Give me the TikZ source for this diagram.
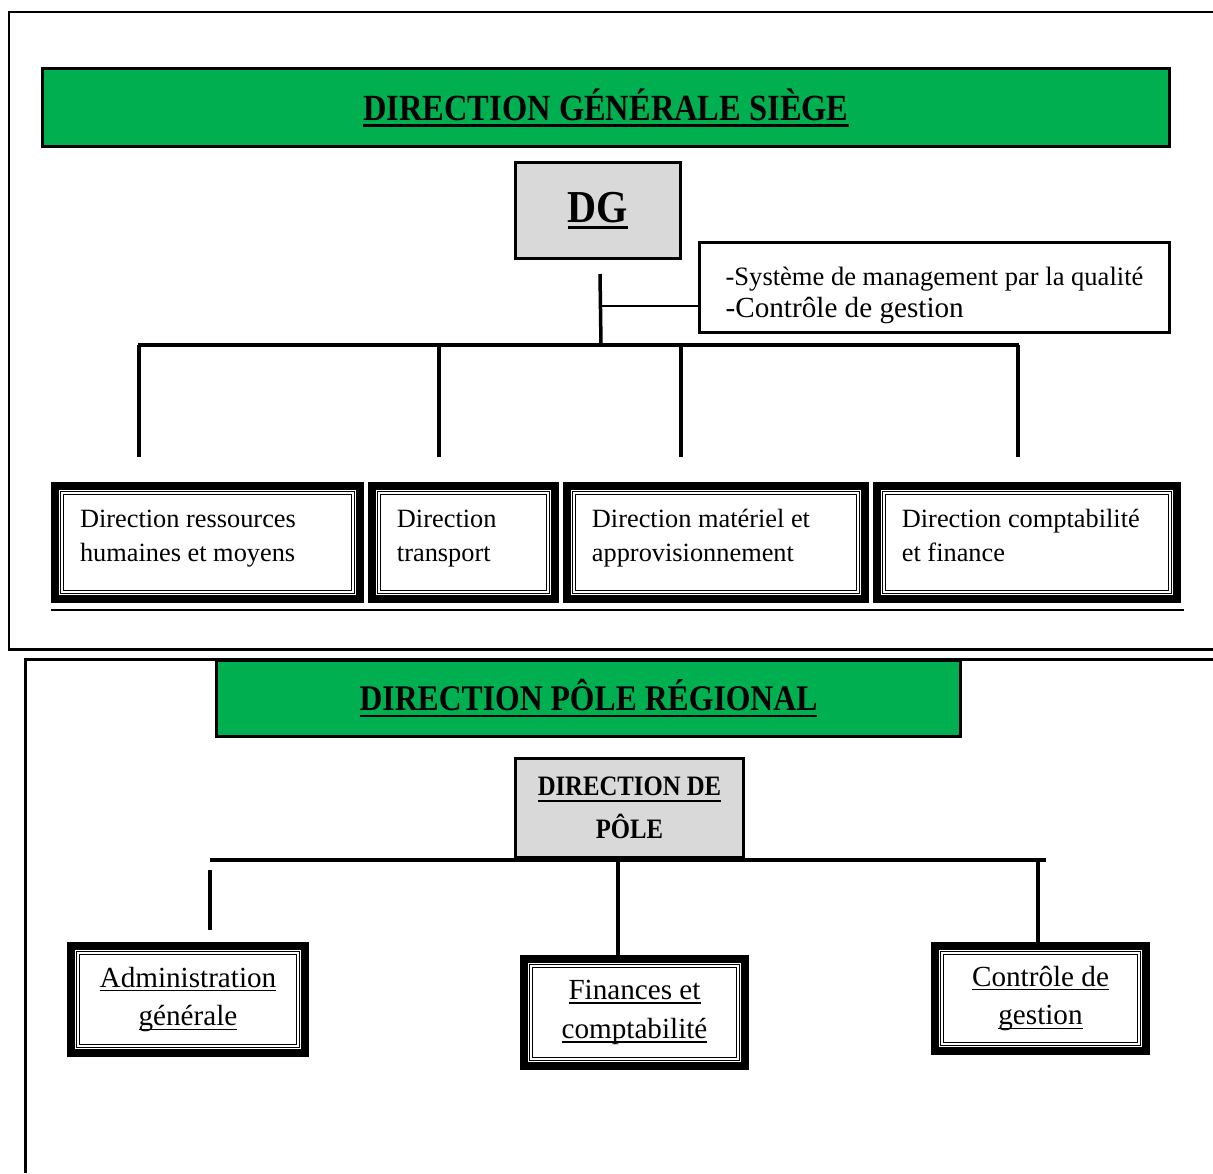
\documentclass[tikz,border=0pt]{standalone}
\usepackage{fontspec}
\setmainfont{Liberation Serif}
\newfontfamily\headfont[FakeStretch=0.88]{Liberation Serif}
\usetikzlibrary{calc,positioning}
\definecolor{OrgGreen}{HTML}{00B050}
\definecolor{OrgGray}{HTML}{D9D9D9}
\newcommand{\orgul}[3]{\leavevmode\setbox0\hbox{#3}\rlap{\vrule height -#2 depth \dimexpr#2+#1\relax width \wd0}\box0}
\newcommand{\headul}[1]{\orgul{1.5pt}{2.2pt}{#1}}
\newcommand{\unitul}[1]{\orgul{0.8pt}{1.6pt}{#1}}
\newcommand{\unitend}{\rule[-11.6pt]{0pt}{12pt}}
\tikzset{
  org banner/.style={
    draw=black,
    fill=OrgGreen,
    line width=0.06cm,
    minimum height=1.56cm,
    inner sep=0pt,
    font=\headfont\bfseries\fontsize{21}{25}\selectfont
  },
  org chief/.style={
    draw=black,
    fill=OrgGray,
    line width=0.06cm,
    inner sep=0pt,
    align=center
  },
  org note/.style={
    draw=black,
    line width=0.06cm,
    align=left,
    inner sep=0pt,
    minimum height=1.8cm,
    minimum width=9.4cm,
    font=\fontsize{16.6}{18.2}\selectfont
  },
  org unit/.style={
    draw=black,
    line width=0.16cm,
    inner xsep=0.5cm,
    inner ysep=0pt,
    align=flush left,
    minimum height=2.26cm,
    font=\fontsize{15}{19.8}\selectfont
  },
  org pole unit/.style={
    draw=black,
    line width=0.16cm,
    inner sep=0pt,
    align=center,
    minimum height=2.14cm,
    font=\fontsize{16.6}{22.1}\selectfont
  },
  org inner/.style={draw=black,line width=0.025cm},
  org bus/.style={draw=black,line width=0.08cm},
  org drop/.style={draw=black,line width=0.07cm},
  org tie/.style={draw=black,line width=0.03cm},
  org frame/.style={draw=black,line width=0.06cm}
}

\begin{document}
\begin{tikzpicture}[x=0.02cm,y=-0.02cm,node distance=0.08cm]
  \useasboundingbox[fill=white] (0,0) rectangle (1213,1173);
  \draw[org frame] (1213,12) -- (9,12) -- (9,649) -- (1213,649);
  \draw[org frame] (1213,659) -- (25,659) -- (25,1173);

  \node[org banner,minimum width=22.54cm] (siege) at (606,107.5) {\headul{DIRECTION GÉNÉRALE SIÈGE}};
  \node[org chief,minimum width=3.30cm,minimum height=1.92cm,font=\headfont\bfseries\fontsize{26}{30}\selectfont] (dg) at (598,210.5) {\headul{DG}};
  \node[org note] (qual) at (934.5,287.5) {\rule{0pt}{19pt}{\fontsize{15.1}{18.2}\selectfont -Système de management par la qualité}\\-Contrôle de gestion};

  \node[org unit,minimum width=6.10cm,text width=5.10cm] (drh) at (207.5,542.5) {\strut Direction ressources\\humaines et moyens\unitend};
  \node[org unit,minimum width=3.66cm,text width=2.66cm,right=of drh] (dtr) {\strut Direction\\transport\unitend};
  \node[org unit,minimum width=5.96cm,text width=4.96cm,right=of dtr] (dma) {\strut Direction matériel et\\approvisionnement\unitend};
  \node[org unit,minimum width=6.00cm,text width=5.00cm,right=of dma] (dcf) {\strut Direction comptabilité\\et finance\unitend};

  \coordinate (hubtop) at (600,274);
  \coordinate (hub) at (601,345);
  \coordinate (tie) at (600,306);
  \coordinate (busW) at (138,345);
  \coordinate (busE) at (1019,345);
  \draw[org drop] (hubtop) -- (hub);
  \draw[org tie] (tie) -- (tie -| qual.west);
  \draw[org bus] (busW) -- (busE);
  \foreach \x in {139,439,681,1018}
    \draw[org drop] (\x,345) -- (\x,457);
  \draw[line width=0.04cm] ([yshift=-0.14cm]drh.south west) -- ([yshift=-0.14cm,xshift=0.06cm]dcf.south east);

  \node[org banner,minimum width=14.88cm,minimum height=1.52cm,font=\headfont\bfseries\fontsize{20.5}{25}\selectfont] (pole) at (588.5,698.5) {\headul{DIRECTION PÔLE RÉGIONAL}};
  \node[org chief,minimum width=4.56cm,minimum height=1.98cm,font=\headfont\bfseries\fontsize{16}{24.4}\selectfont] (dp) at (629.5,808) {\headul{DIRECTION DE}\\PÔLE};

  \node[org pole unit,minimum width=4.68cm] (adm) at (188,999.5) {\unitul{Administration}\\\unitul{générale}};
  \node[org pole unit,minimum width=4.42cm] (fin) at (634.5,1012.5) {\unitul{Finances et}\\\unitul{comptabilité}};
  \node[org pole unit,minimum width=4.22cm,minimum height=2.10cm] (cdg) at (1040.5,998.5) {\unitul{Contrôle de}\\\unitul{gestion}};

  \coordinate (bus2W) at (210,860);
  \coordinate (bus2E) at (1046,860);
  \draw[org bus] (bus2W) -- (bus2E);
  \draw[org drop] (210,870) -- (210,930);
  \draw[org drop] (618,860) -- (618,962);
  \draw[org drop] (1038,860) -- (1038,942);

  \foreach \u in {drh,dtr,dma,dcf,adm,fin,cdg}{
    \draw[org inner] ([shift={(0.19cm,-0.19cm)}]\u.north west) rectangle ([shift={(-0.19cm,0.19cm)}]\u.south east);
    \draw[org inner] ([shift={(0.25cm,-0.25cm)}]\u.north west) rectangle ([shift={(-0.25cm,0.25cm)}]\u.south east);
  }
\end{tikzpicture}
\end{document}
